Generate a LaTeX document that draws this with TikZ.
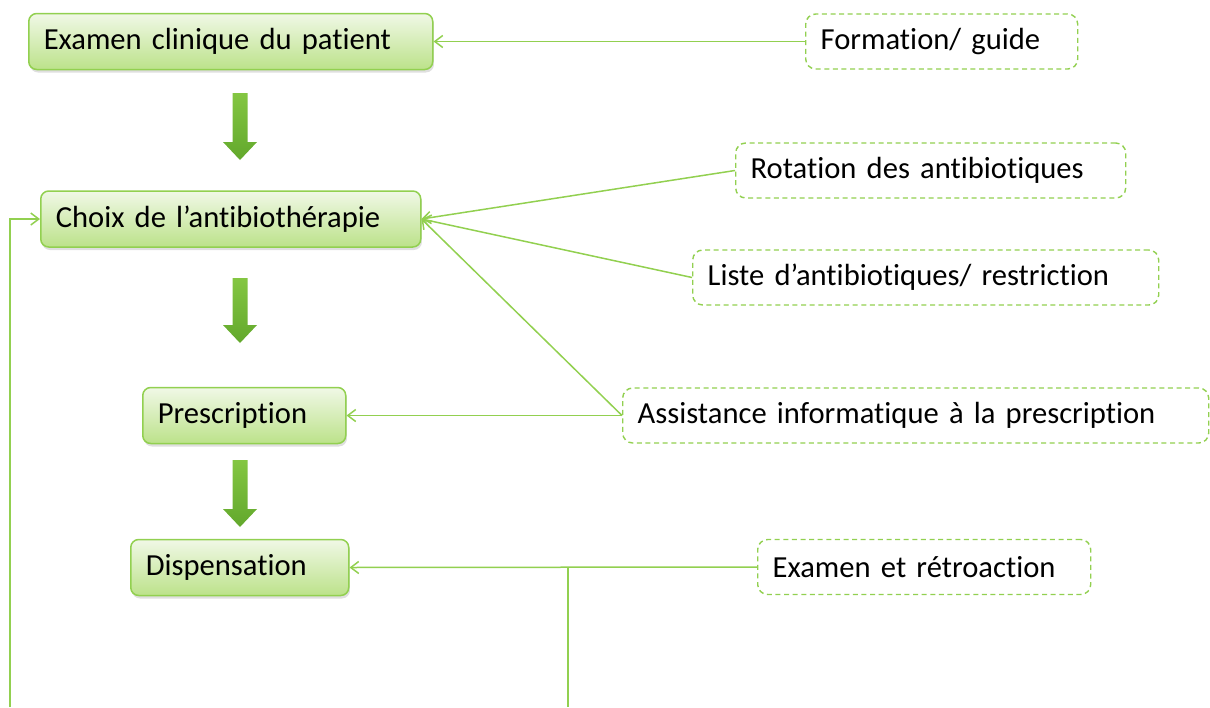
\documentclass[tikz,border=0pt]{standalone}
\usepackage{fontspec}
\setmainfont{Carlito}[Ligatures={NoCommon,NoRequired,NoContextual,NoRare}]
\usetikzlibrary{arrows.meta,shadows}

\definecolor{lineGreen}{RGB}{146,208,80}
\definecolor{boxTop}{RGB}{240,248,230}
\definecolor{boxBot}{RGB}{188,226,138}
\definecolor{arrTop}{RGB}{132,198,66}
\definecolor{arrBot}{RGB}{98,168,44}

\DeclareRobustCommand\boxfont{\fontsize{15.3}{18}\selectfont
  \spaceskip=2.4pt\relax}

\tikzset{
  stepbox/.style={draw=lineGreen, line width=0.75pt, rounded corners=4pt,
    top color=boxTop, bottom color=boxBot, anchor=west, align=left,
    text width=#1, inner xsep=7.5pt, minimum height=28pt,
    drop shadow={opacity=0.25, shadow xshift=0.6pt, shadow yshift=-1.5pt},
    font=\boxfont},
  aidbox/.style={draw=lineGreen, line width=0.7pt, dash pattern=on 2.5pt off 1.8pt,
    rounded corners=5pt, fill=white, anchor=west, align=left,
    text width=#1, inner xsep=7.5pt, minimum height=27.5pt,
    font=\boxfont},
  conn/.style={draw=lineGreen, line width=0.75pt,
    -{Straight Barb[length=4pt,width=6pt]}},
  bigarrow/.style={top color=arrTop, bottom color=arrBot}
}

\begin{document}
\begin{tikzpicture}[x=0.5pt, y=-0.5pt]
  \useasboundingbox (0,0) rectangle (1210,707);

  % main steps
  \node[stepbox=187pt] (exam) at (28,41.5) {Examen clinique du patient};
  \node[stepbox=175pt] (choix) at (40,219) {Choix de l'antibiothérapie};
  \node[stepbox=86.5pt] (presc) at (142,415.5) {Prescription};
  \node[stepbox=94pt] (disp) at (130,567.5) {Dispensation};

  % block arrows between steps
  \foreach \yt/\len in {93/67, 278/65, 460/67}
    \shade[bigarrow] (232.5,\yt) -- (247.5,\yt) -- (247.5,\yt+\len-18)
      -- (257,\yt+\len-18) -- (240,\yt+\len) -- (223,\yt+\len-18)
      -- (232.5,\yt+\len-18) -- cycle;

  % interventions
  \node[aidbox=121pt] (form) at (805,41.5) {Formation/ guide};
  \node[aidbox=180pt] (rot) at (735,170.5) {Rotation des antibiotiques};
  \node[aidbox=218pt] (liste) at (692,277.5) {Liste d'antibiotiques/ restriction};
  \node[aidbox=278pt] (assist) at (622,415.5) {Assistance informatique à la prescription};
  \node[aidbox=151.5pt] (retro) at (757,567) {Examen et rétroaction};

  % connectors
  \draw[conn] (form.west) -- (exam.east);
  \draw[conn] (rot.west) -- (choix.east);
  \draw[conn] (liste.west) -- (choix.east);
  \draw[conn] (assist.west) -- (choix.east);
  \draw[conn] (assist.west) -- (presc.east);
  \draw[conn] (retro.west) -- (disp.east);

  % feedback lines
  \coordinate (fbtop) at (568,567.5);
  \coordinate (fbbot) at (568,707);
  \draw[lineGreen, line width=0.75pt] (fbtop) -- (fbbot);
  \coordinate (loop) at (10,707);
  \draw[conn] (loop) |- (choix.west);
\end{tikzpicture}
\end{document}
